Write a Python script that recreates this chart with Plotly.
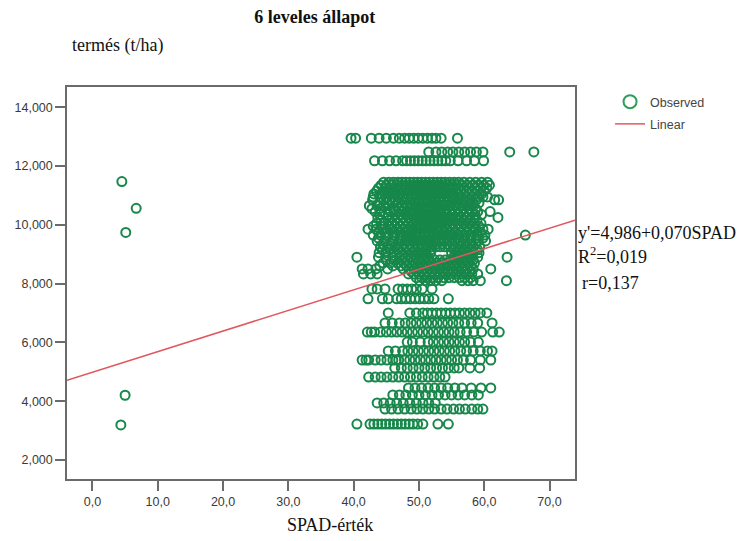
import plotly.graph_objects as go

# Regression summary (SPAD value -> yield, t/ha)
intercept = 4.986
slope = 0.070
r_squared = 0.019
r_value = 0.137

# Observed points: each yield level with the SPAD readings recorded at it
yield_levels = [
    12.95, 12.48, 12.18,
    11.45, 11.35, 11.25, 11.15, 11.05, 10.95, 10.85, 10.75, 10.65, 10.55,
    10.45, 10.35, 10.25, 10.15, 10.05, 9.95, 9.85, 9.75, 9.65, 9.55,
    9.45, 9.35, 9.25, 9.15, 9.05, 8.90, 8.80, 8.70, 8.60, 8.50, 8.42,
    8.33, 8.20, 8.10,
    7.82, 7.48, 7.00, 6.66, 6.35, 6.01, 5.71, 5.40, 5.13, 4.82,
    4.45, 4.21, 3.94, 3.73, 3.22,
]
spad_readings = [
    [39.6, 40.3, 42.7, 43.9, 45.0, 46.1, 47.0, 47.8, 48.5, 49.2, 49.9, 50.6, 51.3, 52.0, 52.6, 53.4, 55.9],
    [51.5, 52.6, 53.5, 54.4, 55.2, 56.1, 57.0, 57.9, 58.8, 59.8, 63.9, 67.6],
    [43.2, 44.4, 45.5, 46.5, 47.5, 48.1, 48.7, 49.3, 49.9, 50.5, 51.1, 51.7, 52.3, 52.9, 53.5, 54.1, 54.8, 56.0, 57.3, 58.5, 59.9],
    [44.6, 45.4, 46.1, 46.8, 47.4, 48.0, 48.6, 49.2, 49.8, 50.4, 51.0, 51.6, 52.2, 52.8, 53.4, 54.0, 54.7, 55.4, 56.1, 56.9, 57.8, 58.7, 59.6, 60.5],
    [44.2, 45.0, 45.8, 46.6, 47.3, 48.0, 48.7, 49.4, 50.0, 50.6, 51.2, 51.8, 52.5, 53.1, 53.7, 54.4, 55.1, 55.8, 56.6, 57.4, 58.2, 59.0, 59.9, 60.8],
    [43.8, 44.9, 45.7, 46.5, 47.2, 47.9, 48.5, 49.1, 49.7, 50.3, 50.9, 51.5, 52.1, 52.7, 53.3, 53.9, 54.6, 55.3, 56.0, 56.8, 57.6, 58.5, 59.4, 60.4],
    [43.5, 44.5, 45.4, 46.2, 47.0, 47.7, 48.4, 49.1, 49.8, 50.5, 51.2, 51.9, 52.6, 53.3, 54.0, 54.8, 55.6, 56.4, 57.3, 58.1, 59.0, 60.0],
    [43.1, 44.3, 45.2, 46.0, 46.9, 47.6, 48.3, 49.0, 49.6, 50.2, 50.8, 51.4, 52.0, 52.6, 53.2, 53.9, 54.5, 55.2, 56.0, 56.9, 57.7, 58.6, 59.6],
    [43.0, 44.0, 45.0, 45.9, 46.7, 47.5, 48.2, 48.9, 49.6, 50.3, 51.0, 51.7, 52.4, 53.1, 53.8, 54.5, 55.3, 56.2, 57.1, 58.0, 58.9, 59.8, 60.5],
    [42.9, 44.6, 45.5, 46.4, 47.3, 48.0, 48.7, 49.4, 50.1, 50.7, 51.3, 51.9, 52.5, 53.1, 53.8, 54.5, 55.3, 56.1, 56.9, 57.8, 58.8, 61.6, 62.2],
    [44.0, 45.1, 46.0, 46.9, 47.8, 48.6, 49.3, 50.0, 50.7, 51.4, 52.1, 52.8, 53.5, 54.2, 55.0, 55.8, 56.6, 57.4, 58.3, 59.2],
    [42.4, 43.6, 44.6, 45.4, 46.6, 47.5, 48.3, 49.0, 49.7, 50.3, 50.9, 51.5, 52.1, 52.7, 53.4, 54.1, 54.9, 55.8, 56.7, 57.6, 58.4],
    [42.8, 44.0, 45.0, 46.1, 47.0, 47.8, 48.6, 49.3, 50.0, 50.7, 51.4, 52.1, 52.8, 53.5, 54.3, 55.1, 56.0, 56.9, 57.8, 58.7],
    [43.3, 44.2, 45.6, 47.2, 48.1, 48.8, 49.5, 50.2, 50.8, 51.4, 52.0, 52.6, 53.2, 53.9, 54.7, 55.5, 56.4, 57.3, 58.1, 59.0, 60.9],
    [44.0, 45.3, 46.4, 47.4, 48.3, 49.1, 49.9, 50.6, 51.3, 52.0, 52.7, 53.4, 54.2, 55.0, 55.9, 56.8, 57.7, 58.6, 59.6],
    [43.7, 45.9, 46.8, 47.6, 48.4, 49.1, 49.8, 50.4, 51.0, 51.6, 52.2, 52.8, 53.4, 54.1, 54.9, 55.7, 56.5, 57.4, 58.6, 62.1],
    [44.2, 45.3, 46.3, 47.2, 48.0, 48.8, 49.5, 50.2, 50.9, 51.6, 52.3, 53.0, 53.7, 54.5, 55.3, 56.1, 57.0, 57.9, 58.9],
    [43.5, 44.6, 45.8, 46.7, 47.6, 48.4, 49.2, 49.9, 50.6, 51.2, 51.8, 52.4, 53.0, 53.7, 54.4, 55.2, 56.0, 56.8, 57.6, 58.5, 59.5],
    [43.0, 44.2, 45.3, 46.3, 47.2, 48.0, 48.8, 49.5, 50.2, 50.9, 51.6, 52.3, 53.1, 53.9, 54.7, 55.6, 56.5, 57.4, 58.3, 59.2],
    [42.2, 43.4, 44.5, 45.6, 46.6, 47.5, 48.3, 49.0, 49.7, 50.3, 50.9, 51.5, 52.1, 52.8, 53.5, 54.3, 55.1, 56.0, 56.9, 57.8, 58.7, 59.8, 60.6],
    [43.8, 44.9, 46.0, 47.0, 47.9, 48.7, 49.4, 50.1, 50.8, 51.5, 52.2, 53.0, 53.8, 54.6, 55.4, 56.3, 57.3, 58.3, 59.4],
    [43.0, 44.1, 45.3, 46.3, 47.2, 48.0, 48.8, 49.5, 50.2, 50.9, 51.6, 52.3, 53.0, 53.7, 54.5, 55.3, 56.1, 57.0, 57.9, 59.0, 60.1, 66.3],
    [43.8, 45.0, 46.2, 47.2, 48.1, 48.9, 49.7, 50.5, 51.3, 52.0, 52.7, 53.5, 54.3, 55.1, 56.0, 56.9, 57.8, 58.8, 59.8],
    [43.6, 44.8, 45.9, 47.0, 47.9, 48.7, 49.5, 50.3, 51.0, 51.7, 52.4, 53.1, 53.8, 54.6, 55.4, 56.2, 57.1, 58.0, 59.1, 60.2],
    [44.5, 45.7, 46.8, 47.8, 48.7, 49.5, 50.3, 51.1, 51.9, 52.7, 53.5, 54.3, 55.1, 55.9, 56.8, 57.7, 58.7],
    [44.1, 45.2, 46.3, 47.3, 48.2, 49.0, 49.8, 50.5, 51.2, 51.9, 52.6, 53.3, 54.0, 54.8, 55.6, 56.5, 57.4, 58.3, 59.3],
    [44.4, 45.6, 46.7, 47.7, 48.6, 49.4, 50.2, 51.0, 51.8, 55.4, 56.3, 57.2, 58.1, 59.0],
    [43.9, 45.0, 46.1, 47.1, 48.0, 48.9, 49.7, 50.4, 51.1, 51.8, 55.0, 55.8, 56.6, 57.4, 58.3, 59.2],
    [40.5, 43.8, 44.9, 46.0, 47.0, 47.9, 48.8, 49.6, 50.4, 51.2, 55.3, 56.2, 57.1, 58.0, 59.0, 63.5],
    [45.0, 46.2, 47.3, 48.3, 49.2, 50.0, 50.8, 51.6, 52.4, 53.2, 54.0, 54.8, 55.6, 56.5, 57.4, 58.3],
    [44.5, 45.6, 46.7, 47.7, 48.6, 49.4, 50.2, 51.0, 51.8, 52.6, 53.4, 54.2, 55.0, 55.8, 56.7, 57.6, 58.5],
    [44.0, 46.0, 47.2, 48.1, 49.0, 49.8, 50.6, 51.4, 52.2, 53.0, 53.8, 54.6, 55.4, 56.2, 57.1, 58.0],
    [41.3, 42.2, 43.4, 45.2, 47.6, 48.5, 49.3, 50.1, 50.9, 51.7, 52.5, 53.3, 54.1, 54.9, 55.7, 56.5, 57.4, 58.3, 61.0],
    [48.8, 49.6, 50.4, 51.2, 52.0, 52.8, 53.6, 54.4, 55.2, 56.0, 56.9, 57.8],
    [41.5, 42.6, 43.6, 48.4, 49.2, 50.0, 50.8, 51.6, 52.4, 53.2, 54.0, 54.8, 55.6, 56.4, 57.2, 58.1, 59.0],
    [49.6, 50.4, 51.2, 52.0, 52.9, 53.8, 54.6, 55.4, 56.2, 57.0, 57.9],
    [50.1, 51.0, 51.8, 52.6, 53.5, 56.6, 57.5, 58.3, 59.4, 63.4],
    [42.8, 43.6, 44.8, 46.8, 47.5, 48.2, 48.9, 49.6, 50.5, 52.0],
    [42.2, 44.4, 45.3, 46.6, 47.3, 48.0, 48.7, 49.4, 50.1, 50.8, 51.5, 52.3, 54.5],
    [45.3, 48.6, 49.6, 50.6, 51.3, 52.0, 52.7, 53.4, 54.1, 54.8, 55.5, 56.2, 57.0, 57.8, 58.6, 59.4, 60.4],
    [44.8, 45.9, 47.0, 47.9, 48.8, 49.6, 50.4, 51.2, 52.0, 52.8, 53.6, 54.4, 55.2, 56.1, 57.0, 58.0, 59.0, 61.2],
    [42.1, 42.7, 43.2, 44.1, 45.0, 45.8, 46.6, 47.4, 48.2, 49.0, 49.8, 50.6, 51.4, 52.2, 53.0, 53.8, 54.6, 55.4, 56.3, 57.3, 58.4, 59.6, 61.3, 62.3],
    [48.2, 49.0, 50.2, 51.4, 52.2, 53.0, 53.8, 54.6, 55.4, 56.2, 57.0, 57.9, 59.1],
    [45.3, 46.4, 47.5, 48.3, 49.1, 49.9, 50.7, 51.5, 52.3, 53.1, 53.9, 54.7, 55.5, 56.4, 57.3, 58.3, 59.4, 60.5, 61.2],
    [41.3, 41.9, 42.3, 43.3, 44.2, 45.1, 46.0, 46.5, 46.9, 47.8, 48.6, 49.4, 50.2, 51.0, 51.8, 52.6, 53.4, 54.2, 55.0, 55.9, 56.8, 57.9, 59.4, 61.0],
    [46.3, 47.3, 48.2, 49.1, 50.0, 50.9, 51.8, 52.7, 53.6, 54.5, 55.4, 56.1, 57.8, 59.3],
    [42.3, 43.3, 44.2, 45.1, 46.0, 46.9, 47.8, 48.7, 49.6, 50.5, 51.4, 52.3, 53.2, 54.0],
    [48.4, 49.4, 50.4, 51.4, 52.4, 53.4, 54.4, 55.5, 56.6, 58.0, 59.5, 61.0],
    [46.0, 47.0, 48.0, 49.0, 50.0, 51.0, 52.0, 53.0, 54.0, 55.0, 56.0, 57.0, 58.1, 59.1],
    [43.6, 44.6, 45.6, 46.6, 47.6, 48.6, 49.6, 50.6, 51.5, 52.5],
    [44.8, 45.8, 46.8, 47.8, 48.8, 49.7, 50.6, 51.5, 52.4, 53.4, 54.3, 55.3, 56.2, 57.1, 58.1, 59.0, 59.8],
    [40.5, 42.5, 43.1, 43.7, 44.3, 44.9, 45.5, 46.1, 46.7, 47.3, 47.9, 48.5, 49.1, 49.8, 50.6, 52.9, 54.5],
]

# Isolated low-SPAD plants
low_spad = [4.5, 6.7, 5.1, 5.0, 4.35]
low_spad_yield = [11.47, 10.56, 9.74, 4.20, 3.19]

x_range = [-3.9, 73.9]
y_range = [1.35, 14.69]
x_ticks = [0, 10, 20, 30, 40, 50, 60, 70]
y_ticks = [2, 4, 6, 8, 10, 12, 14]

obs_x = list(low_spad)
obs_y = list(low_spad_yield)
for level, readings in zip(yield_levels, spad_readings):
    obs_x.extend(readings)
    obs_y.extend([level] * len(readings))

fit_x = x_range
fit_y = [intercept + slope * v for v in fit_x]

green = "#17874a"
legend_green = "#2f9e5c"
red = "#e0585e"
frame = "#6b6b6b"
serif = "Liberation Serif, Times New Roman, serif"
sans = "Liberation Sans, Arial, sans-serif"

fig = go.Figure()
fig.add_trace(go.Scatter(
    x=obs_x, y=obs_y, mode="markers", name="Observed", showlegend=False,
    marker=dict(symbol="circle-open", size=9, color=green, line=dict(width=2, color=green)),
))
# Legend key for the observed points (larger symbol than the data markers)
fig.add_trace(go.Scatter(
    x=[None], y=[None], mode="markers", name="Observed", legendgroup="obs",
    marker=dict(symbol="circle-open", size=13, color=legend_green,
                line=dict(width=2, color=legend_green)),
))
fig.add_trace(go.Scatter(
    x=fit_x, y=fit_y, mode="lines", name="Linear", legendgroup="fit",
    line=dict(color=red, width=1.5),
))

axis_common = dict(
    showline=True, mirror=True, linecolor=frame, linewidth=1.5,
    ticks="outside", ticklen=10, tickwidth=1.5, tickcolor=frame,
    showgrid=False, zeroline=False,
    tickfont=dict(family=sans, size=12.5, color="#3a3a3a"),
)

fig.update_layout(
    width=746, height=541,
    margin=dict(l=67, r=171, t=87, b=62),
    paper_bgcolor="white", plot_bgcolor="white",
    separators=",.",
    title=dict(
        text="<b>6 leveles állapot</b>", x=0.422, y=0.969,
        xanchor="center", yanchor="middle",
        font=dict(family=serif, size=18, color="#111111"),
    ),
    xaxis=dict(range=x_range, tickvals=x_ticks, tickformat=".1f", **axis_common),
    yaxis=dict(range=y_range, tickvals=y_ticks, tickformat=".3f", **axis_common),
    legend=dict(
        x=1.069, y=1.0, xanchor="left", yanchor="top",
        font=dict(family=sans, size=12.5, color="#444444"),
        tracegroupgap=3, bgcolor="rgba(0,0,0,0)",
    ),
    showlegend=True,
)

eq_text = f"y'={intercept:.3f}+{slope:.3f}SPAD".replace(".", ",")
r2_text = f"R<sup>2</sup>={r_squared:.3f}".replace(".", ",")
r_text = f"r={r_value:.3f}".replace(".", ",")

text_font = dict(family=serif, size=18, color="#111111")
notes = [
    (0.0060, 1.107, "termés (t/ha)", "left"),
    (0.518, -0.117, "SPAD-érték", "center"),
    (1.002, 0.628, eq_text, "left"),
    (1.002, 0.569, r2_text, "left"),
    (1.010, 0.500, r_text, "left"),
]
for nx, ny, txt, anchor in notes:
    fig.add_annotation(
        x=nx, y=ny, xref="paper", yref="paper", text=txt, showarrow=False,
        xanchor=anchor, yanchor="middle", font=text_font,
    )

fig.write_html("out.html")
